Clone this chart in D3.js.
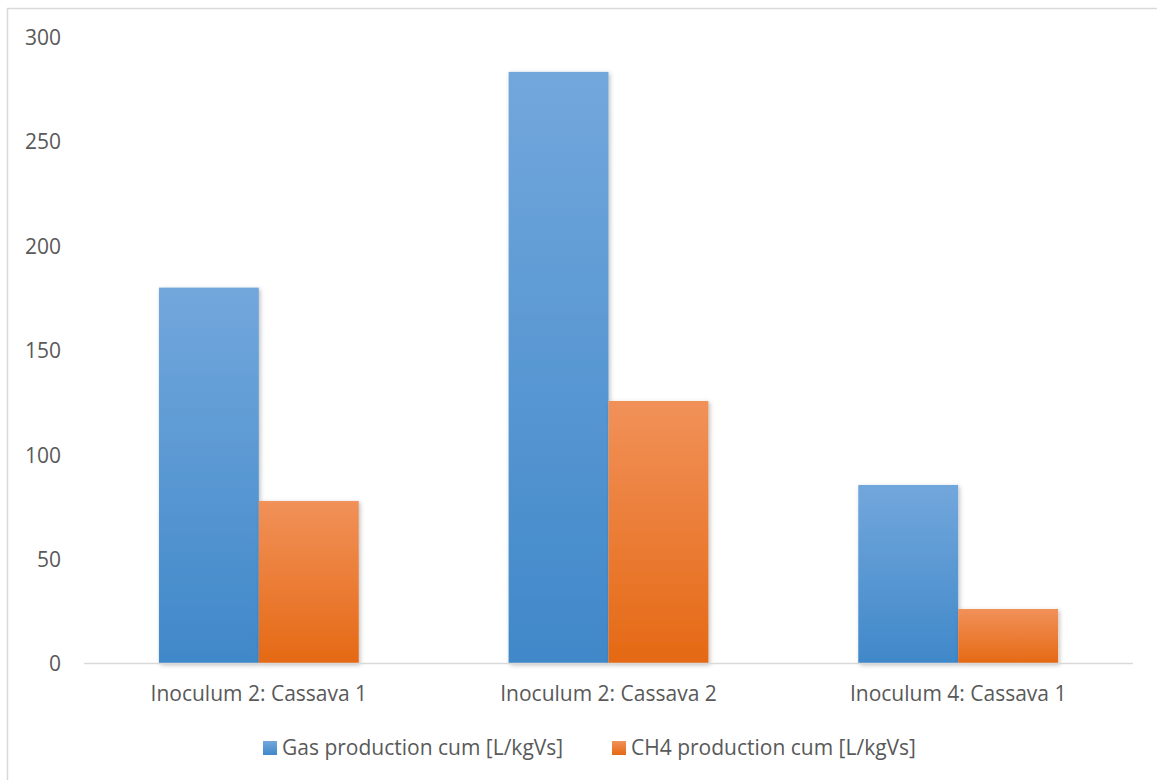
<!DOCTYPE html>
<html><head><meta charset="utf-8">
<script src="https://cdn.jsdelivr.net/npm/d3@7"></script>
<style>body{margin:0;background:#fff}svg{display:block}text{font-family:"Open Sans",sans-serif;fill:#595959}</style>
</head><body>
<svg id="c" width="1157" height="780"></svg>
<script>
const categories = ["Inoculum 2: Cassava 1", "Inoculum 2: Cassava 2", "Inoculum 4: Cassava 1"];
const seriesNames = ["Gas production cum [L/kgVs]", "CH4 production cum [L/kgVs]"];
const gasValues = [180, 283.3, 85.5];
const ch4Values = [77.8, 125.7, 26.1];
const yTicks = [0, 50, 100, 150, 200, 250, 300];

const FS = "21px";
const svg = d3.select("#c");
const defs = svg.append("defs");
const grads = [["gBlue", "#72a7dc", "#4088c9"], ["gOrange", "#f19159", "#e56914"]];
grads.forEach(([id, top, bot]) => {
  const g = defs.append("linearGradient").attr("id", id).attr("x1", 0).attr("y1", 0).attr("x2", 0).attr("y2", 1);
  g.append("stop").attr("offset", "0%").attr("stop-color", top);
  g.append("stop").attr("offset", "100%").attr("stop-color", bot);
});
const f = defs.append("filter").attr("id", "sh").attr("x", "-10%").attr("y", "-10%").attr("width", "130%").attr("height", "130%");
f.append("feDropShadow").attr("dx", 1.5).attr("dy", 1.5).attr("stdDeviation", 2).attr("flood-color", "#000").attr("flood-opacity", 0.25);

// frame
svg.append("rect").attr("x", 7.5).attr("y", 8.5).attr("width", 1200).attr("height", 800)
  .attr("fill", "none").attr("stroke", "#d9d9d9").attr("stroke-width", 1.5);

const x0 = d3.scaleBand().domain(categories).range([84, 1133]).padding(0);
const x1 = d3.scaleBand().domain(seriesNames).range([0, x0.bandwidth()]).paddingInner(0).paddingOuter(0.75);
const y = d3.scaleLinear().domain([0, 300]).range([663.5, 37]);
const color = d3.scaleOrdinal().domain(seriesNames).range(["url(#gBlue)", "url(#gOrange)"]);

// y axis labels
const yAxis = d3.axisLeft(y).tickValues(yTicks).tickSize(0).tickPadding(0);
const ga = svg.append("g").attr("transform", "translate(61,0)").call(yAxis);
ga.select(".domain").remove();
ga.selectAll("text").style("font-size", FS).attr("fill", "#595959").attr("font-family", "Open Sans").attr("dy", "0.35em");

// bars
const data = categories.map((c, i) => ({ c, vals: [gasValues[i], ch4Values[i]] }));
const groups = svg.append("g").selectAll("g").data(data).join("g")
  .attr("transform", d => `translate(${x0(d.c)},0)`);
groups.selectAll("rect").data(d => seriesNames.map((s, j) => ({ s, v: d.vals[j] }))).join("rect")
  .attr("x", d => x1(d.s)).attr("width", x1.bandwidth())
  .attr("y", d => y(d.v)).attr("height", d => y(0) - y(d.v))
  .attr("fill", d => color(d.s)).attr("filter", "url(#sh)");

// baseline
svg.append("line").attr("x1", 84).attr("x2", 1133).attr("y1", y(0)).attr("y2", y(0))
  .attr("stroke", "#d9d9d9").attr("stroke-width", 1.5);

// x axis labels
const xAxis = d3.axisBottom(x0).tickSize(0).tickPadding(0);
const gx = svg.append("g").attr("transform", "translate(0,694)").call(xAxis);
gx.select(".domain").remove();
gx.selectAll("text").style("font-size", FS).attr("fill", "#595959").attr("font-family", "Open Sans").attr("dy", "0.35em").attr("y", 0);

// legend
const legX = [263, 612];
const lg = svg.append("g").selectAll("g").data(seriesNames).join("g")
  .attr("transform", (d, i) => `translate(${legX[i]},748)`);
lg.append("rect").attr("x", 0).attr("y", -7).attr("width", 14).attr("height", 14).attr("fill", d => color(d));
lg.append("text").attr("x", 19).attr("dy", "0.35em").style("font-size", FS).text(d => d);
</script>
</body></html>
